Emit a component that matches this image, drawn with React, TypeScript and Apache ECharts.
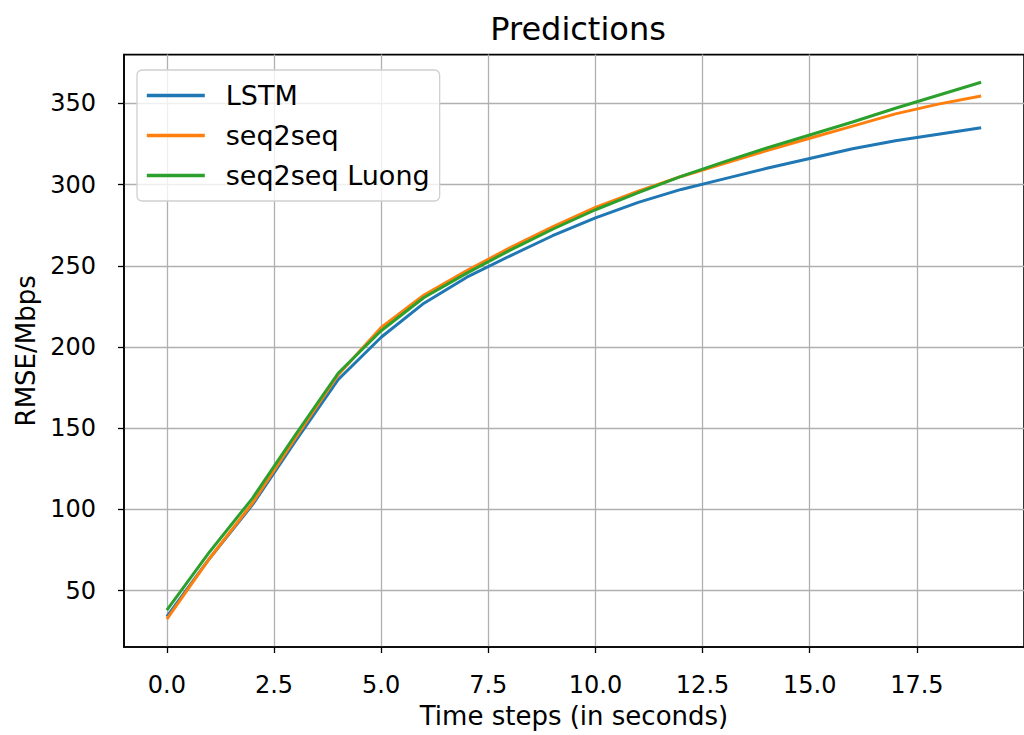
import React, { useEffect, useRef } from "react";
import * as echarts from "echarts";

const timeSteps = [0, 1, 2, 3, 4, 5, 6, 7, 8, 9, 10, 11, 12, 13, 14, 15, 16, 17, 18, 19];
const lstm = [34, 70, 103, 142, 180, 206, 227, 243, 256, 268.5, 279.5, 289, 297, 303.5, 310, 316, 322, 327, 331, 335];
const seq2seq = [32.5, 70, 104, 144, 183, 212, 232, 247, 261, 274, 286, 296, 305, 313, 321, 328.5, 336, 343.5, 349.5, 354.5];
const seq2seqLuong = [38, 74, 107, 146, 184, 210, 230.5, 245.5, 259.5, 272.5, 284.5, 295, 305, 314, 322.5, 330.5, 338.5, 347, 355, 363];
const seriesNames = ["LSTM", "seq2seq", "seq2seq Luong"];
const seriesColors = ["#1f77b4", "#ff7f0e", "#2ca02c"];
const xTicks = [0, 2.5, 5, 7.5, 10, 12.5, 15, 17.5];
const yTicks = [50, 100, 150, 200, 250, 300, 350];

const FONT = "DejaVu Sans";

export default function App() {
  const ref = useRef<HTMLDivElement>(null);
  useEffect(() => {
    document.body.style.margin = "0";
    if (!ref.current) return;
    const chart = echarts.init(ref.current, undefined, { renderer: "svg" });
    const allSeries = [lstm, seq2seq, seq2seqLuong];
    chart.setOption({
      animation: false,
      backgroundColor: "#ffffff",
      textStyle: { fontFamily: FONT, color: "#000" },
      graphic: [
        {
          type: "text",
          x: 578,
          y: 29,
          style: {
            text: "Predictions",
            fontFamily: FONT,
            fontSize: 32,
            fill: "#000",
            textAlign: "center",
            textVerticalAlign: "middle",
          },
        },
      ],
      grid: {
        left: 124,
        top: 54.6,
        width: 913.5,
        height: 592.4,
        show: true,
        borderColor: "#000",
        borderWidth: 1.6,
        containLabel: false,
      },
      legend: {
        orient: "vertical",
        left: 137,
        top: 70,
        padding: [12, 10, 12, 8],
        itemGap: 13,
        itemWidth: 58,
        itemHeight: 14,
        backgroundColor: "rgba(255,255,255,0.8)",
        borderColor: "#d0d0d0",
        borderWidth: 1.3,
        borderRadius: 5,
        itemStyle: { opacity: 0 },
        lineStyle: { width: 3.6 },
        textStyle: { fontFamily: FONT, fontSize: 27, color: "#000", padding: [0, 0, 0, 16] },
        data: seriesNames,
      },
      xAxis: {
        type: "value",
        min: -1,
        max: 20,
        name: "Time steps (in seconds)",
        nameLocation: "middle",
        nameGap: 56,
        nameTextStyle: { fontFamily: FONT, fontSize: 26, color: "#000" },
        axisLine: { show: true, onZero: false, lineStyle: { color: "#000", width: 1.6 } },
        axisTick: { show: true, inside: false, length: 6, customValues: xTicks, lineStyle: { color: "#000", width: 1.3 } },
        axisLabel: {
          customValues: xTicks,
          margin: 26,
          fontFamily: FONT,
          fontSize: 24,
          color: "#000",
          formatter: (v: number) => v.toFixed(1),
        },
        splitLine: { show: true, lineStyle: { color: "#b0b0b0", width: 1.3 } },
      },
      yAxis: {
        type: "value",
        min: 15.35,
        max: 380,
        name: "RMSE/Mbps",
        nameLocation: "middle",
        nameRotate: 90,
        nameGap: 84,
        nameTextStyle: { fontFamily: FONT, fontSize: 26, color: "#000" },
        axisLine: { show: true, onZero: false, lineStyle: { color: "#000", width: 1.6 } },
        axisTick: { show: true, inside: false, length: 6, customValues: yTicks, lineStyle: { color: "#000", width: 1.3 } },
        axisLabel: {
          customValues: yTicks,
          margin: 28,
          fontFamily: FONT,
          fontSize: 24,
          color: "#000",
        },
        splitLine: { show: true, lineStyle: { color: "#b0b0b0", width: 1.3 } },
      },
      series: seriesNames.map((name, i) => ({
        name,
        type: "line",
        symbol: "none",
        data: timeSteps.map((t, j) => [t, allSeries[i][j]]),
        color: seriesColors[i],
        lineStyle: { color: seriesColors[i], width: 3 },
      })),
    });
    return () => chart.dispose();
  }, []);
  return <div ref={ref} style={{ width: 1024, height: 735 }} />;
}
